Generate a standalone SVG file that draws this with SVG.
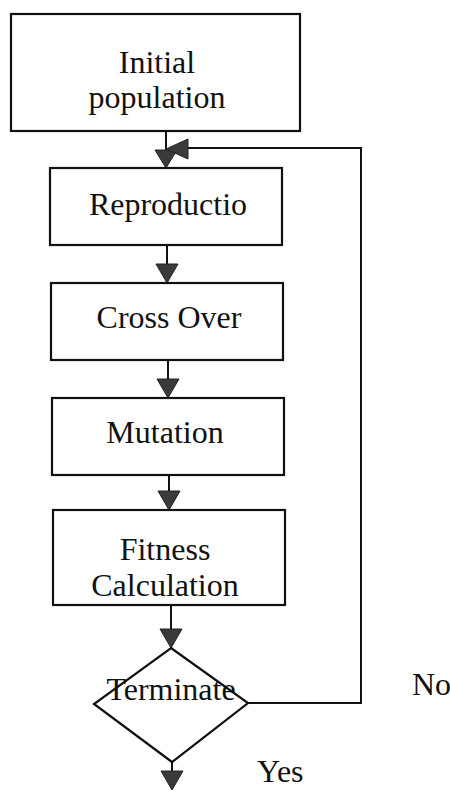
<svg xmlns="http://www.w3.org/2000/svg" width="450" height="799" viewBox="0 0 450 799">
<defs>
<style>
.box{fill:#fff;stroke:#111;stroke-width:2.2}
.ln{fill:none;stroke:#111;stroke-width:2}
.hd{fill:#3a3a3a;stroke:#222;stroke-width:1}
.t{font-family:'Liberation Serif','Times New Roman','DejaVu Serif',serif;font-size:32px;fill:#111;text-anchor:middle}
.s{text-anchor:start}
</style>
</defs>
<rect width="450" height="799" fill="#fff"/>
<g id="connectors">
<line class="ln" x1="166" y1="131" x2="166" y2="152"/>
<polygon class="hd" points="155,150 177,150 166,168"/>
<polyline class="ln" points="248,703 361,703 361,148 186,148"/>
<polygon class="hd" points="166,149 188,139 188,159"/>
<line class="ln" x1="167" y1="245" x2="167" y2="265"/>
<polygon class="hd" points="156,264 178,264 167,283"/>
<line class="ln" x1="168" y1="360" x2="168" y2="380"/>
<polygon class="hd" points="157,379 179,379 168,398"/>
<line class="ln" x1="169" y1="475" x2="169" y2="492"/>
<polygon class="hd" points="158,491 180,491 169,510"/>
<line class="ln" x1="171" y1="605" x2="171" y2="630"/>
<polygon class="hd" points="160,629 182,629 171,648"/>
<line class="ln" x1="172" y1="762" x2="172" y2="772"/>
<polygon class="hd" points="161,771 183,771 172,790"/>
</g>
<g id="initial">
<rect class="box" x="11" y="14" width="289" height="117"/>
<text class="t" x="157" y="73" font-family="Liberation Serif, serif">Initial</text>
<text class="t" x="157" y="108" font-family="Liberation Serif, serif">population</text>
</g>
<g id="reproduction">
<rect class="box" x="50" y="168" width="232" height="77"/>
<text class="t" x="168" y="215" font-family="Liberation Serif, serif">Reproductio</text>
</g>
<g id="crossover">
<rect class="box" x="51" y="283" width="232" height="77"/>
<text class="t" x="169" y="328" font-family="Liberation Serif, serif">Cross Over</text>
</g>
<g id="mutation">
<rect class="box" x="52" y="398" width="232" height="77"/>
<text class="t" x="165" y="443" font-family="Liberation Serif, serif">Mutation</text>
</g>
<g id="fitness">
<rect class="box" x="53" y="510" width="232" height="95"/>
<text class="t" x="165" y="560" font-family="Liberation Serif, serif">Fitness</text>
<text class="t" x="165" y="596" font-family="Liberation Serif, serif">Calculation</text>
</g>
<g id="terminate">
<polygon class="box" points="171,648 248,703 172,762 94,704"/>
<text class="t" x="171" y="700" font-family="Liberation Serif, serif">Terminate</text>
</g>
<g id="labels">
<text class="t s" x="412" y="695" font-family="Liberation Serif, serif">No</text>
<text class="t s" x="257" y="782" font-family="Liberation Serif, serif">Yes</text>
</g>
</svg>
